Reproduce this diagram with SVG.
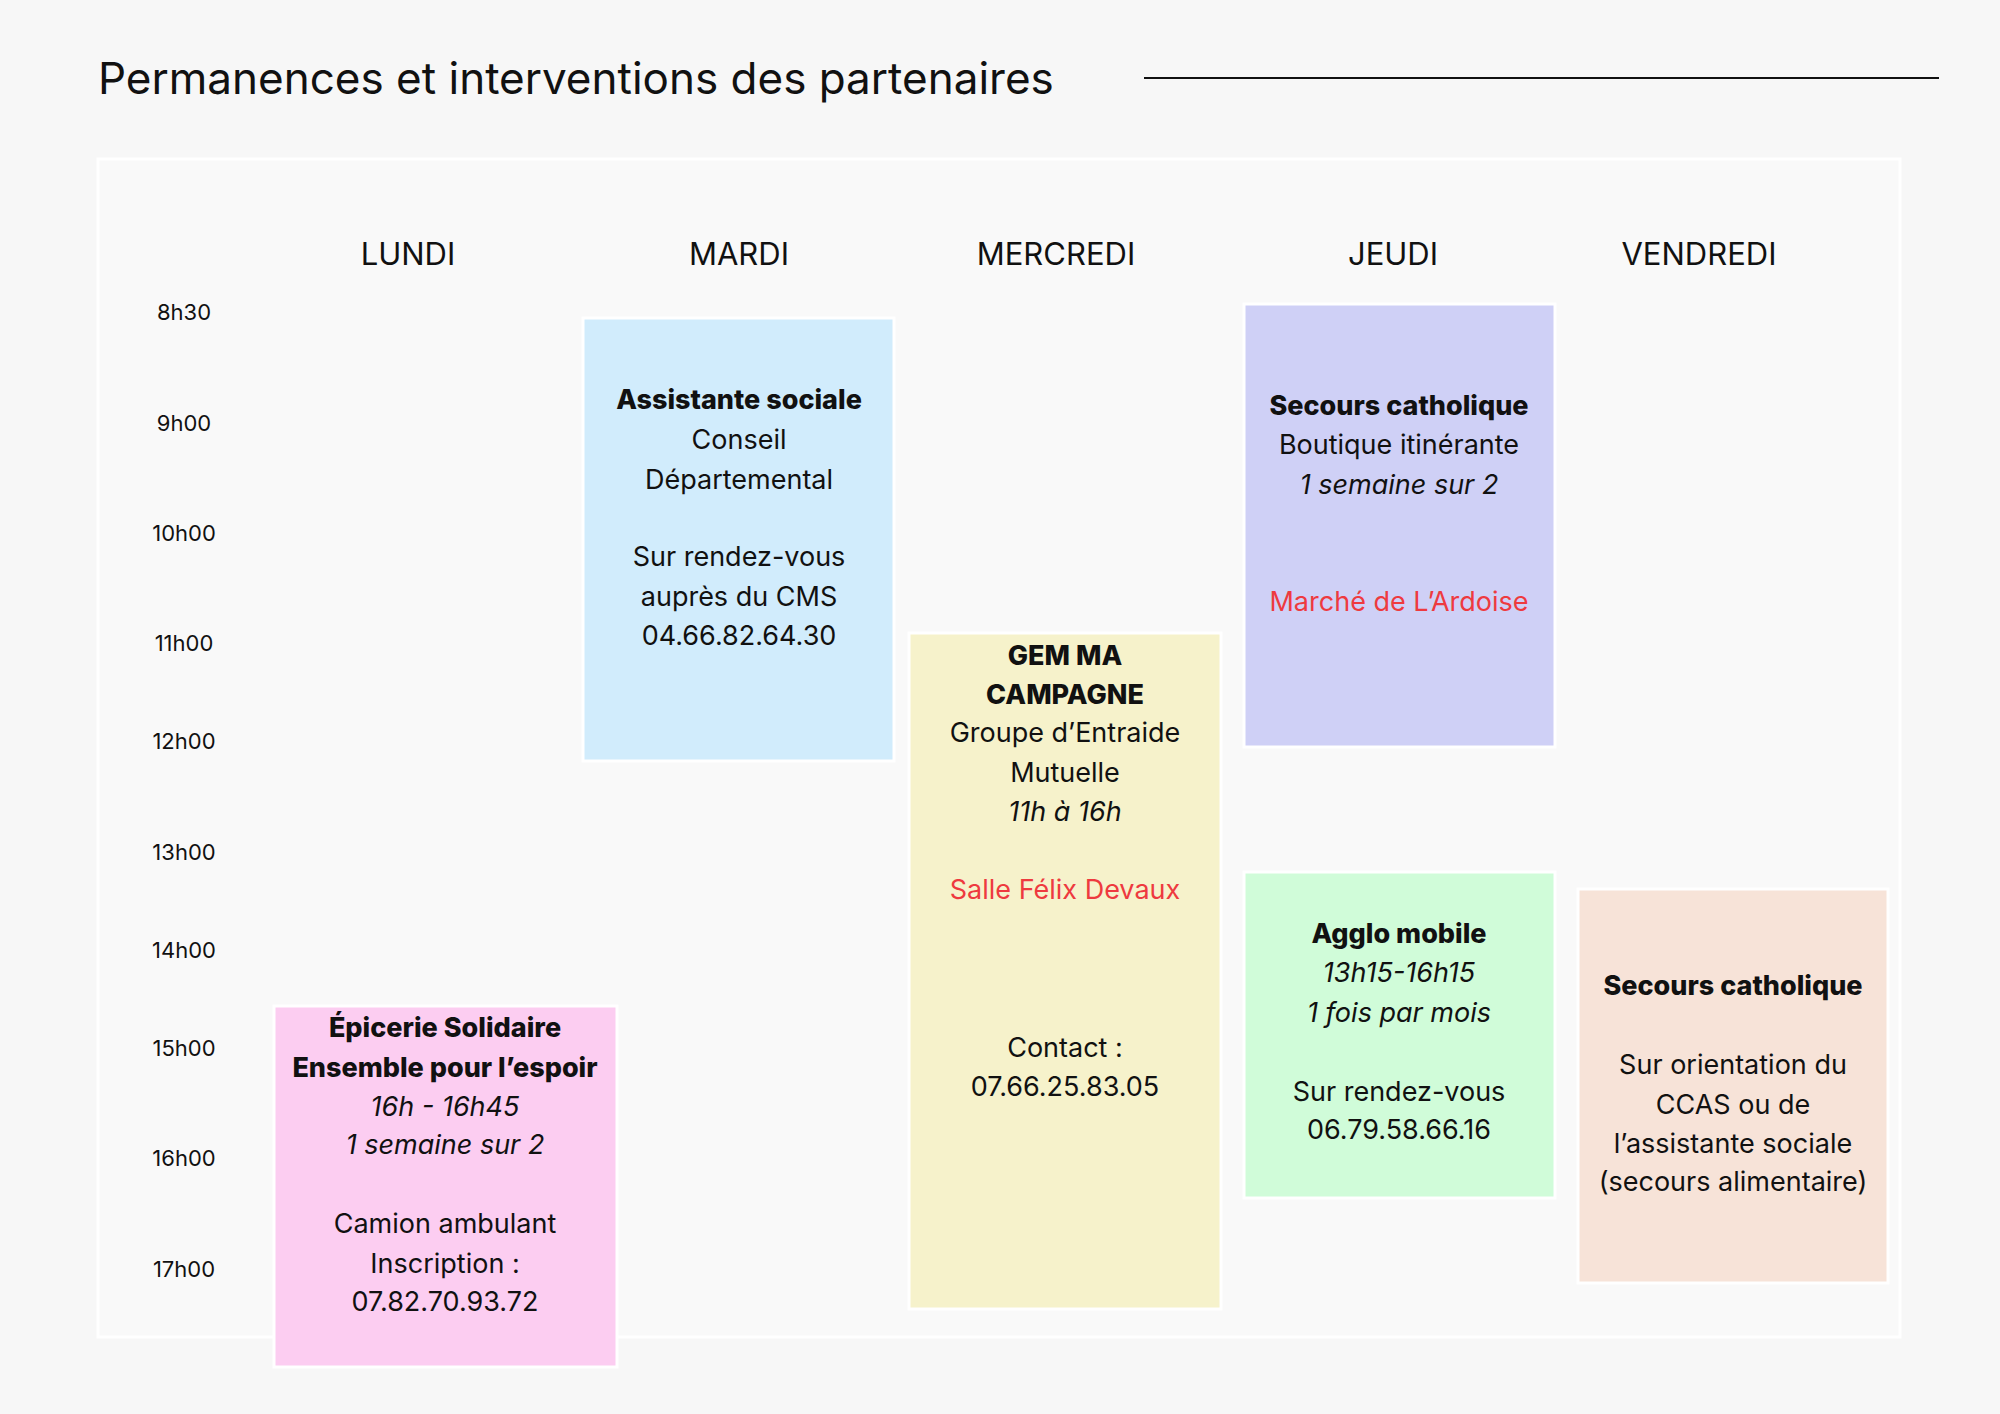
<svg xmlns="http://www.w3.org/2000/svg" width="2000" height="1414" viewBox="0 0 2000 1414">
<style>
text{font-family:Inter,"Noto Sans",sans-serif;fill:#111}
.day{font-size:31px;text-anchor:middle}
.tm{font-size:22px;text-anchor:middle}
.b text{font-size:27px;text-anchor:middle}
.b text.bo{font-weight:800}
.it{font-style:italic}
.red{fill:#ee3a3f}
.box{stroke:#fff;stroke-width:3}
</style>
<rect width="2000" height="1414" fill="#f7f7f7"/>
<text x="98" y="94" style="font-size:44px">Permanences et interventions des partenaires</text>
<line x1="1144" y1="78" x2="1939" y2="78" stroke="#111" stroke-width="2"/>
<rect x="98" y="159" width="1802" height="1178" fill="#f9f9f9" stroke="#fff" stroke-width="3"/>
<g id="days">
<text class="day" x="408" y="265">LUNDI</text>
<text class="day" x="739" y="265">MARDI</text>
<text class="day" x="1056" y="265">MERCREDI</text>
<text class="day" x="1393" y="265">JEUDI</text>
<text class="day" x="1699" y="265">VENDREDI</text>
</g>
<g id="times">
<text class="tm" x="184" y="320">8h30</text>
<text class="tm" x="184" y="431">9h00</text>
<text class="tm" x="184" y="541">10h00</text>
<text class="tm" x="184" y="651">11h00</text>
<text class="tm" x="184" y="749">12h00</text>
<text class="tm" x="184" y="860">13h00</text>
<text class="tm" x="184" y="958">14h00</text>
<text class="tm" x="184" y="1056">15h00</text>
<text class="tm" x="184" y="1166">16h00</text>
<text class="tm" x="184" y="1277">17h00</text>
</g>
<g id="assistante" class="b">
<rect class="box" x="583" y="318" width="311" height="443" fill="#d1ecfc"/>
<text class="bo" x="739" y="409">Assistante sociale</text>
<text x="739" y="449">Conseil</text>
<text x="739" y="489">Départemental</text>
<text x="739" y="566">Sur rendez-vous</text>
<text x="739" y="606">auprès du CMS</text>
<text x="739" y="645">04.66.82.64.30</text>
</g>
<g id="secours-jeudi" class="b">
<rect class="box" x="1244" y="304" width="311" height="443" fill="#cfd0f6"/>
<text class="bo" x="1399" y="415">Secours catholique</text>
<text x="1399" y="454">Boutique itinérante</text>
<text class="it" x="1399" y="494">1 semaine sur 2</text>
<text class="red" x="1399" y="611">Marché de L’Ardoise</text>
</g>
<g id="gem" class="b">
<rect class="box" x="909" y="633" width="312" height="676" fill="#f6f2cb"/>
<text class="bo" x="1065" y="665">GEM MA</text>
<text class="bo" x="1065" y="704">CAMPAGNE</text>
<text x="1065" y="742">Groupe d’Entraide</text>
<text x="1065" y="782">Mutuelle</text>
<text class="it" x="1065" y="821">11h à 16h</text>
<text class="red" x="1065" y="899">Salle Félix Devaux</text>
<text x="1065" y="1057">Contact :</text>
<text x="1065" y="1096">07.66.25.83.05</text>
</g>
<g id="agglo" class="b">
<rect class="box" x="1244" y="872" width="311" height="326" fill="#d0fcd9"/>
<text class="bo" x="1399" y="943">Agglo mobile</text>
<text class="it" x="1399" y="982">13h15-16h15</text>
<text class="it" x="1399" y="1022">1 fois par mois</text>
<text x="1399" y="1101">Sur rendez-vous</text>
<text x="1399" y="1139">06.79.58.66.16</text>
</g>
<g id="secours-vendredi" class="b">
<rect class="box" x="1578" y="889" width="310" height="394" fill="#f7e3d8"/>
<text class="bo" x="1733" y="995">Secours catholique</text>
<text x="1733" y="1074">Sur orientation du</text>
<text x="1733" y="1114">CCAS ou de</text>
<text x="1733" y="1153">l’assistante sociale</text>
<text x="1733" y="1191">(secours alimentaire)</text>
</g>
<g id="epicerie" class="b">
<rect class="box" x="274" y="1006" width="343" height="361" fill="#fccdf1"/>
<text class="bo" x="445" y="1037">Épicerie Solidaire</text>
<text class="bo" x="445" y="1077">Ensemble pour l’espoir</text>
<text class="it" x="445" y="1116">16h - 16h45</text>
<text class="it" x="445" y="1154">1 semaine sur 2</text>
<text x="445" y="1233">Camion ambulant</text>
<text x="445" y="1273">Inscription :</text>
<text x="445" y="1311">07.82.70.93.72</text>
</g>
<g id="connectors"/>
</svg>
